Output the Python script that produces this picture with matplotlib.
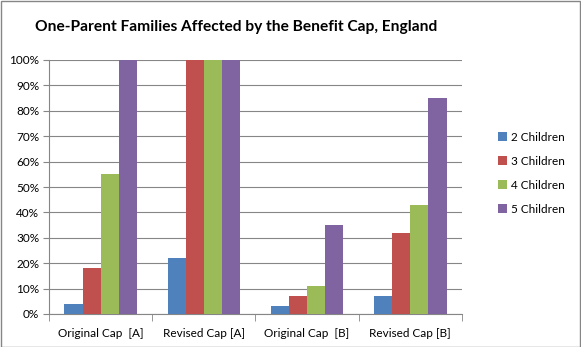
import matplotlib
matplotlib.use("Agg")
import matplotlib.pyplot as plt
import numpy as np
from matplotlib.patches import Rectangle

categories = ["Original Cap  [A]", "Revised Cap [A]", "Original Cap  [B]", "Revised Cap [B]"]
series_names = ["2 Children", "3 Children", "4 Children", "5 Children"]
two_children = [4, 22, 3, 7]
three_children = [18, 100, 7, 32]
four_children = [55, 100, 11, 43]
five_children = [100, 100, 35, 85]
colors = ["#4F81BD", "#C0504D", "#9BBB59", "#8064A2"]

plt.rcParams['font.family'] = ['Lato', 'DejaVu Sans']

W, H = 581, 347
fig = plt.figure(figsize=(W/100, H/100), dpi=100)
fig.patch.set_facecolor("white")
fig.add_artist(Rectangle((0.5/W, 0.5/H), 1 - 1.5/W, 1 - 1.5/H, transform=fig.transFigure,
                         fill=False, edgecolor="#868686", linewidth=1.0))

left, right, top, bottom = 49, 462, 60, 314
ax = fig.add_axes([left/W, 1 - bottom/H, (right-left)/W, (bottom-top)/H])

data = [two_children, three_children, four_children, five_children]
x = np.arange(len(categories))
bw = 0.175
for i, (vals, c, name) in enumerate(zip(data, colors, series_names)):
    ax.bar(x + (i - 1.5) * bw, vals, bw, color=c, label=name, zorder=3)

ax.set_xlim(-0.5, 3.5)
ax.set_ylim(0, 100)
ax.set_yticks(np.arange(0, 101, 10))
ax.set_yticklabels([f"{v}%" for v in range(0, 101, 10)], fontsize=8.5)
ax.set_xticks(x)
ax.set_xticklabels(categories, fontsize=8.5)
ax.set_xticks(np.arange(-0.5, 3.6, 1), minor=True)
ax.tick_params(axis='x', which='major', length=0, pad=10)
ax.tick_params(axis='x', which='minor', length=5, color="#868686", direction='out')
ax.tick_params(axis='y', length=4, color="#868686", direction='out', pad=3)
ax.yaxis.grid(True, color="#868686", linewidth=0.8, zorder=0)
for s in ['top', 'right']:
    ax.spines[s].set_visible(False)
for s in ['left', 'bottom']:
    ax.spines[s].set_color("#868686")
    ax.spines[s].set_linewidth(0.8)

fig.text(0.5 * (37 + 435) / W, 1 - 27 / H, "One-Parent Families Affected by the Benefit Cap, England",
         ha='center', va='center', fontsize=11.2, fontweight='bold')

leg = ax.legend(loc='upper left', bbox_to_anchor=(487/W, 1 - 121/H), bbox_transform=fig.transFigure,
                frameon=False, fontsize=8.5, handlelength=0.8, handleheight=0.8,
                handletextpad=0.3, labelspacing=1.1)

fig.savefig("out.png", dpi=100)
